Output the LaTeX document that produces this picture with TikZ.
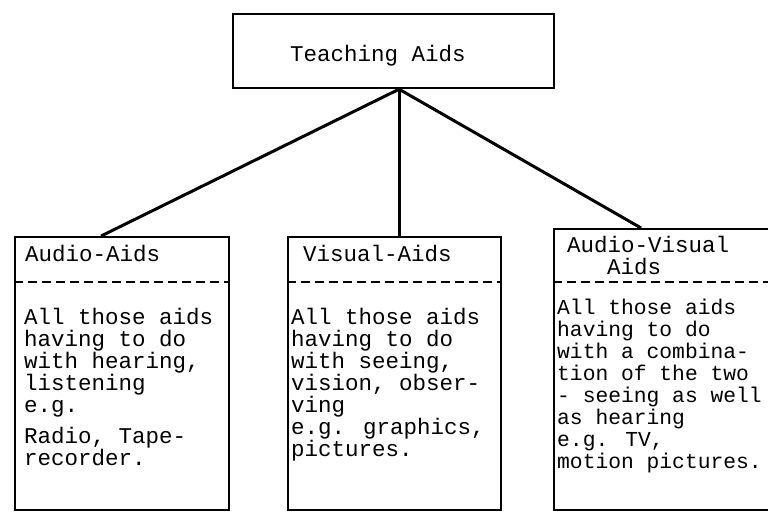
\documentclass[tikz,border=0pt]{standalone}
\usepackage{fontspec}
\newfontfamily\tw{Liberation Mono}
\tikzset{
  frame/.style={draw, line width=2.2pt, inner sep=0pt, anchor=north west},
  link/.style={line width=3pt},
  divider/.style={line width=2pt, dash pattern=on 9pt off 5pt},
  typed/.style={font=\tw\fontsize{22.5}{22}\selectfont, inner sep=0pt, align=left},
  typedsmall/.style={font=\tw\fontsize{21.3}{22}\selectfont, inner sep=0pt, align=left}
}
\begin{document}
\begin{tikzpicture}[x=1pt, y=-1pt]
\useasboundingbox (0,0) rectangle (768,512);
\clip (0,0) rectangle (768,512);
\fill[white] (0,0) rectangle (768,512);
% top box
\node[frame, minimum width=321pt, minimum height=74pt] (top) at (232,13) {};
\node[typed] (toptxt) at (378,56) {Teaching Aids};
% lower boxes
\node[frame, minimum width=214pt, minimum height=273pt] (lb) at (14,236) {};
\node[frame, minimum width=213pt, minimum height=273pt] (mb) at (287,236) {};
\node[frame, minimum width=240pt, minimum height=281pt] (rb) at (553,228) {};
% dividers
\draw[divider] ([yshift=-46pt]lb.north west) -- ([yshift=-46pt]lb.north east);
\draw[divider] ([yshift=-46pt]mb.north west) -- ([yshift=-46pt]mb.north east);
\draw[divider] ([yshift=-54pt]rb.north west) -- ([yshift=-54pt]rb.north east);
% connectors
\coordinate (j) at ([xshift=5.5pt]top.south);
\draw[link] (j) -- ([xshift=-21pt]lb.north);
\draw[link] (j) -- (j |- mb.north);
\draw[link] (j) -- ([xshift=-33pt]rb.north);
% headers
\node[typed, anchor=west] (lh) at (25,253) {Audio-Aids};
\node[typed, anchor=west] (mh) at (303,253) {Visual-Aids};
\node[typed, anchor=north west] (rh) at (567,236) {Audio-Visual\\\hspace*{40pt}Aids};
% bodies
\node[typed, anchor=north west] (lt) at (24,308) {All those aids\\having to do\\with hearing,\\listening\\e.g.\\[9pt]Radio, Tape-\\recorder.};
\node[typed, anchor=north west] (mt) at (291,308) {All those aids\\having to do\\with seeing,\\vision, obser-\\ving\\e.g. graphics,\\pictures.};
\node[typedsmall, anchor=north west] (rt) at (557,299) {All those aids\\having to do\\with a combina-\\tion of the two\\- seeing as well\\as hearing\\e.g. TV,\\motion pictures.};
\end{tikzpicture}
\end{document}
